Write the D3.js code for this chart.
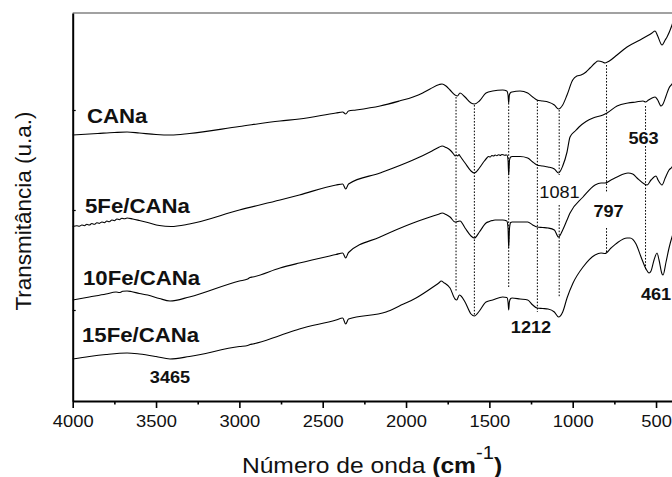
<!DOCTYPE html>
<html>
<head>
<meta charset="utf-8">
<script src="https://cdn.jsdelivr.net/npm/d3@7/dist/d3.min.js"></script>
<style>
  html, body { margin: 0; padding: 0; background: #fff; }
  svg { display: block; font-family: "Liberation Sans", Arial, Helvetica, sans-serif; }
</style>
</head>
<body>
<svg id="chart" width="672" height="477"></svg>
<script>
// FTIR spectra: [wavenumber (cm-1), transmittance (a.u., offset per sample)]
const canaPts = [
  [4000,2.75],[3850,2.765],[3750,2.775],[3674,2.78],[3600,2.77],[3500,2.755],[3410,2.75],[3300,2.765],
  [3000,2.835],[2756,2.89],[2640,2.91],[2420,2.97],[2380,2.98],[2362,2.96],[2345,2.99],[2300,3.00],
  [2156,3.04],[2040,3.09],[1958,3.13],[1900,3.17],[1856,3.21],[1800,3.255],[1784,3.26],[1760,3.24],
  [1736,3.20],[1706,3.15],[1692,3.14],[1676,3.17],[1646,3.13],[1610,3.07],[1590,3.06],[1560,3.09],
  [1520,3.17],[1480,3.19],[1420,3.20],[1395,3.19],[1388,3.15],[1384,3.07],[1380,3.15],[1372,3.175],
  [1364,3.18],[1316,3.19],[1270,3.17],[1240,3.13],[1214,3.10],[1180,3.09],[1148,3.08],[1110,3.05],
  [1085,3.01],[1060,3.05],[1034,3.15],[1000,3.30],[975,3.34],[950,3.35],[920,3.38],[896,3.42],
  [866,3.47],[848,3.49],[820,3.48],[806,3.47],[780,3.49],[734,3.55],[674,3.63],[596,3.70],
  [524,3.77],[506,3.79],[490,3.74],[464,3.65],[445,3.70],[434,3.73],[404,3.85],[400,3.87]
];

const fe5Pts = [
  [4000,1.835],[3975,1.842],[3960,1.838],[3945,1.85],[3930,1.843],[3915,1.857],[3900,1.85],[3885,1.865],
  [3870,1.857],[3855,1.872],[3840,1.866],[3825,1.88],[3810,1.873],[3795,1.89],[3780,1.882],[3765,1.9],
  [3750,1.893],[3735,1.91],[3720,1.903],[3705,1.918],[3690,1.912],[3674,1.92],[3640,1.91],[3600,1.895],
  [3550,1.875],[3480,1.845],[3410,1.835],[3300,1.86],[3000,2.00],[2756,2.10],[2640,2.15],[2420,2.25],
  [2380,2.26],[2362,2.21],[2345,2.26],[2156,2.37],[1958,2.50],[1856,2.58],[1800,2.63],[1784,2.64],
  [1760,2.625],[1736,2.60],[1715,2.56],[1706,2.54],[1698,2.55],[1690,2.54],[1682,2.555],[1676,2.54],
  [1646,2.47],[1610,2.39],[1590,2.37],[1560,2.42],[1530,2.49],[1515,2.52],[1505,2.535],[1495,2.53],
  [1485,2.545],[1475,2.54],[1465,2.55],[1455,2.543],[1445,2.553],[1435,2.546],[1425,2.555],[1410,2.548],
  [1395,2.55],[1388,2.5],[1384,2.35],[1379,2.5],[1372,2.53],[1364,2.535],[1316,2.535],[1270,2.52],
  [1240,2.48],[1214,2.45],[1180,2.44],[1148,2.43],[1110,2.41],[1085,2.37],[1060,2.44],[1034,2.58],
  [1016,2.73],[985,2.79],[962,2.83],[920,2.885],[878,2.92],[818,2.95],[794,2.97],[734,3.04],
  [668,3.07],[620,3.08],[578,3.09],[563,3.08],[545,3.10],[524,3.12],[506,3.13],[490,3.10],
  [470,3.04],[458,3.06],[440,3.14],[422,3.22],[404,3.26],[400,3.27]
];

const fe10Pts = [
  [4000,1.10],[3900,1.13],[3800,1.16],[3740,1.18],[3720,1.175],[3700,1.187],[3674,1.19],[3650,1.185],
  [3600,1.165],[3550,1.15],[3480,1.115],[3416,1.09],[3300,1.13],[3000,1.29],[2950,1.31],[2936,1.325],
  [2920,1.33],[2756,1.42],[2640,1.47],[2420,1.555],[2380,1.57],[2362,1.52],[2345,1.575],[2156,1.73],
  [1958,1.87],[1856,1.93],[1800,1.96],[1784,1.97],[1760,1.955],[1736,1.93],[1706,1.88],[1690,1.885],
  [1676,1.89],[1646,1.82],[1610,1.74],[1590,1.72],[1560,1.78],[1520,1.87],[1500,1.885],[1490,1.892],
  [1480,1.895],[1465,1.9],[1450,1.9],[1420,1.90],[1395,1.89],[1388,1.82],[1384,1.62],[1379,1.82],
  [1372,1.875],[1364,1.88],[1316,1.88],[1270,1.88],[1240,1.85],[1214,1.83],[1180,1.825],[1148,1.82],
  [1110,1.80],[1085,1.73],[1060,1.80],[1034,1.90],[1016,1.97],[938,2.13],[866,2.25],[830,2.27],
  [806,2.27],[770,2.30],[734,2.33],[668,2.37],[640,2.36],[614,2.32],[570,2.26],[554,2.25],
  [530,2.30],[500,2.34],[488,2.30],[464,2.25],[445,2.32],[422,2.40],[404,2.43],[400,2.44]
];

const fe15Pts = [
  [4000,0.51],[3900,0.535],[3800,0.555],[3674,0.57],[3600,0.56],[3500,0.535],[3416,0.51],[3300,0.535],
  [3000,0.635],[2950,0.645],[2936,0.655],[2918,0.66],[2756,0.745],[2640,0.81],[2420,0.90],[2380,0.92],
  [2362,0.86],[2345,0.91],[2120,0.98],[2040,1.04],[1940,1.12],[1838,1.23],[1800,1.275],[1790,1.29],
  [1770,1.27],[1736,1.22],[1706,1.11],[1696,1.10],[1680,1.15],[1670,1.14],[1646,1.08],[1610,0.96],
  [1590,0.94],[1560,0.99],[1520,1.08],[1480,1.10],[1420,1.13],[1395,1.125],[1388,1.08],[1384,1.00],
  [1380,1.08],[1372,1.115],[1364,1.12],[1316,1.11],[1270,1.10],[1240,1.05],[1214,1.02],[1180,1.015],
  [1148,1.01],[1110,0.98],[1085,0.93],[1060,0.98],[1034,1.12],[998,1.27],[938,1.43],[866,1.55],
  [830,1.57],[806,1.565],[770,1.62],[734,1.67],[674,1.72],[656,1.72],[620,1.66],[590,1.53],
  [560,1.41],[542,1.37],[530,1.39],[512,1.50],[494,1.57],[482,1.50],[464,1.36],[458,1.35],
  [440,1.48],[422,1.62],[404,1.73],[400,1.75]
];

const sampleNames = ["CANa", "5Fe/CANa", "10Fe/CANa", "15Fe/CANa"];

// band positions marked with dotted drop lines: [wavenumber, [[top, bottom], ...]]
const bandLines = [
  [1700, [[3.13, 1.18]]],
  [1590, [[3.05, 0.95]]],
  [1384, [[3.07, 1.22]]],
  [1212, [[3.10, 0.98]]],
  [1081, [[3.00, 2.35], [2.05, 1.13]]],
  [797,  [[3.45, 2.17], [1.82, 1.58]]],
  [563,  [[3.04, 2.80], [2.64, 1.40]]]
];

const xMajorTicks = [4000, 3500, 3000, 2500, 2000, 1500, 1000, 500];
const xMinorTicks = [3750, 3250, 2750, 2250, 1750, 1250, 750];
const yTicks = [1, 2, 3];

const svg = d3.select("#chart");
const x = d3.scaleLinear().domain([4000, 400]).range([72.7, 672.7]);
const y = d3.scaleLinear().domain([0.09, 3.97]).range([401, 13]);

// top frame edge
svg.append("line")
  .attr("x1", x(4000)).attr("x2", x(400))
  .attr("y1", y(3.97)).attr("y2", y(3.97))
  .attr("stroke", "#444").attr("stroke-width", 1.2);

// dotted band markers
const bandG = svg.append("g").attr("stroke", "#000").attr("stroke-width", 1)
  .attr("stroke-dasharray", "1.6,1.6");
bandLines.forEach(([wn, segs]) => {
  segs.forEach(([a, b]) => {
    bandG.append("line")
      .attr("x1", x(wn)).attr("x2", x(wn))
      .attr("y1", y(a)).attr("y2", y(b));
  });
});

// spectra
const line = d3.line().x(d => x(d[0])).y(d => y(d[1])).curve(d3.curveMonotoneX);
[canaPts, fe5Pts, fe10Pts, fe15Pts].forEach(pts => {
  svg.append("path").datum(pts)
    .attr("d", line)
    .attr("fill", "none")
    .attr("stroke", "#000")
    .attr("stroke-width", 1.1)
    .attr("stroke-linejoin", "round");
});

// bottom axis: major + minor ticks
const xAxisG = svg.append("g").attr("transform", `translate(0,${y(0.09)})`);
xAxisG.call(d3.axisBottom(x).tickValues(xMajorTicks).tickSize(7).tickSizeOuter(0).tickFormat(d3.format("d")));
const xMinorG = svg.append("g").attr("transform", `translate(0,${y(0.09)})`);
xMinorG.call(d3.axisBottom(x).tickValues(xMinorTicks).tickSize(3.5).tickSizeOuter(0).tickFormat(""));
xMinorG.select(".domain").remove();
[xAxisG, xMinorG].forEach(g => {
  g.selectAll(".tick line").attr("stroke", "#000").attr("stroke-width", 1.6);
});
xAxisG.select(".domain").attr("stroke", "#000").attr("stroke-width", 2);
xAxisG.selectAll(".tick text")
  .attr("y", 26).attr("dy", 0)
  .attr("transform", "scale(1.08,1)")
  .style("font-size", "17px")
  .style("font-family", "'Liberation Sans', Arial, sans-serif")
  .attr("fill", "#111");

// left axis: inward ticks, no labels
const yAxisG = svg.append("g").attr("transform", `translate(${x(4000)},0)`);
yAxisG.call(d3.axisLeft(y).tickValues(yTicks).tickSize(-3).tickSizeOuter(0).tickFormat(""));
yAxisG.select(".domain").attr("stroke", "#000").attr("stroke-width", 2);
yAxisG.selectAll(".tick line").attr("stroke", "#000").attr("stroke-width", 1.2);

// text helper with slight horizontal stretch
function addText(px, py, str, size, weight, anchor, sx) {
  return svg.append("text")
    .attr("transform", `translate(${px},${py}) scale(${sx},1)`)
    .attr("text-anchor", anchor)
    .style("font-size", size + "px")
    .style("font-weight", weight)
    .attr("fill", "#111")
    .text(str);
}

// sample names
addText(87, 123, sampleNames[0], 20, "bold", "start", 1.11);
addText(85, 213, sampleNames[1], 20, "bold", "start", 1.11);
addText(83, 285, sampleNames[2], 20, "bold", "start", 1.11);
addText(82, 342, sampleNames[3], 20, "bold", "start", 1.11);

// band annotations
addText(170, 383, "3465", 16.5, "bold", "middle", 1.1);
addText(531, 333, "1212", 16.5, "bold", "middle", 1.1);
addText(656, 300, "461", 16.5, "bold", "middle", 1.1);
addText(608.5, 217, "797", 16.5, "bold", "middle", 1.1);
addText(643.5, 144, "563", 16.5, "bold", "middle", 1.1);
addText(559.5, 198, "1081", 16.5, "normal", "middle", 1.1);

// axis titles
svg.append("text")
  .attr("transform", "translate(31,211) rotate(-90)")
  .attr("text-anchor", "middle")
  .style("font-size", "22.5px")
  .attr("fill", "#111")
  .text("Transmitância (u.a.)");

const xt = svg.append("text")
  .attr("transform", "translate(372,473) scale(1.12,1)")
  .attr("text-anchor", "middle")
  .style("font-size", "22px")
  .attr("fill", "#111");
xt.append("tspan").text("Número de onda ");
xt.append("tspan").style("font-weight", "bold").text("(cm");
xt.append("tspan").attr("dy", -14).style("font-size", "18px").text("-1");
xt.append("tspan").attr("dy", 14).style("font-weight", "bold").text(")");
</script>
</body>
</html>
